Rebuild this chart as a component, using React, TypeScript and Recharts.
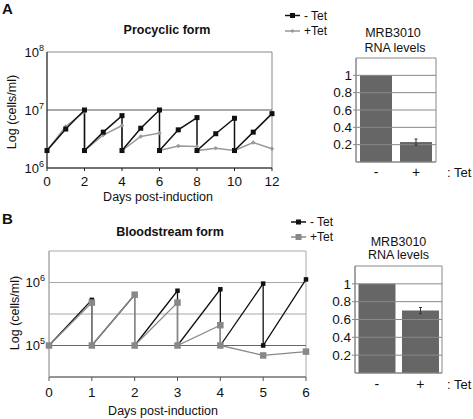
import React from 'react';
import {
  LineChart,
  Line,
  BarChart,
  Bar,
  XAxis,
  YAxis,
  ReferenceLine,
  ReferenceArea,
  ErrorBar,
  Cell,
} from 'recharts';

// Procyclic form growth (days, cells/ml); repeated days are the dilution drops
const procMinusDays = [0, 1, 2, 2, 3, 4, 4, 5, 6, 6, 7, 8, 8, 9, 10, 10, 11, 12];
const procMinusCells = [2e6, 4.7e6, 1e7, 2e6, 4.15e6, 8e6, 2e6, 4.85e6, 1e7, 2e6, 4.55e6, 7.4e6, 2e6, 3.9e6, 7.2e6, 2e6, 4.15e6, 8.65e6];
const procPlusDays = [0, 1, 2, 2, 3, 4, 4, 5, 6, 6, 7, 8, 8, 9, 10, 11, 12];
const procPlusCells = [2e6, 5.2e6, 9.4e6, 2e6, 3.7e6, 5.4e6, 2e6, 3.5e6, 4e6, 2e6, 2.4e6, 2.35e6, 2e6, 2.2e6, 2e6, 2.75e6, 2.15e6];

// Bloodstream form growth
const bloodMinusDays = [0, 1, 1, 2, 2, 3, 3, 4, 4, 5, 5, 6];
const bloodMinusCells = [1e5, 5.3e5, 1e5, 6.4e5, 1e5, 7.4e5, 1e5, 7.8e5, 1e5, 9.6e5, 1e5, 1.12e6];
const bloodPlusDays = [0, 1, 1, 2, 2, 3, 3, 4, 4, 5, 6];
const bloodPlusCells = [1e5, 4.8e5, 1e5, 6.4e5, 1e5, 4.8e5, 1e5, 2.1e5, 1e5, 6.95e4, 8e4];

// RNA levels
const rnaCategories = ['-', '+'];
const procRna = [1, 0.23];
const procRnaErr = [0, 0.035];
const bloodRna = [1, 0.7];
const bloodRnaErr = [0, 0.035];

const procDayTicks = [0, 2, 4, 6, 8, 10, 12];
const bloodDayTicks = [0, 1, 2, 3, 4, 5, 6];
const procLogTicks = [1e6, 1e7, 1e8];
const bloodLogTicks = [1e5, Math.pow(10, 5.5), 1e6];
const rnaTicks = [0.2, 0.4, 0.6, 0.8, 1];

const FONT = '"Liberation Sans", Arial, Helvetica, sans-serif';

const toPoints = (days: number[], cells: number[]) =>
  days.map((d, i) => ({ day: d, cells: cells[i] }));

const toBars = (vals: number[], errs: number[]) =>
  rnaCategories.map((c, i) => ({ cat: c, level: vals[i], err: errs[i] }));

function square(size: number, fill: string) {
  return (props: any) => {
    const { cx, cy, index } = props;
    if (cx == null || cy == null) return <g key={`n${index}`} />;
    return (
      <rect key={`s${index}`} x={cx - size / 2} y={cy - size / 2} width={size} height={size} fill={fill} />
    );
  };
}

function diamond(r: number, fill: string) {
  return (props: any) => {
    const { cx, cy, index } = props;
    if (cx == null || cy == null) return <g key={`n${index}`} />;
    return (
      <path
        key={`d${index}`}
        d={`M${cx},${cy - r}L${cx + r},${cy}L${cx},${cy + r}L${cx - r},${cy}Z`}
        fill={fill}
      />
    );
  };
}

function PowerTick(props: any) {
  const { x, y, payload } = props;
  const exp = Math.log10(payload.value);
  if (Math.abs(exp - Math.round(exp)) > 0.01) return <g />;
  return (
    <text x={x} y={y} dy={4.5} textAnchor="end" fontSize={13} fill="#111" fontFamily={FONT}>
      10
      <tspan dy={-6} fontSize={9}>
        {Math.round(exp)}
      </tspan>
    </text>
  );
}

function LegendRow({ x, y, color, label, mark }: any) {
  return (
    <g>
      <line x1={x} x2={x + 15} y1={y} y2={y} stroke={color} strokeWidth={1.5} />
      {mark}
      <text x={x + 19} y={y} dominantBaseline="central" fontSize={12} fill="#111" fontFamily={FONT}>
        {label}
      </text>
    </g>
  );
}

function Overlay() {
  const t = { fontFamily: FONT, fill: '#111' };
  return (
    <svg width={473} height={419} style={{ position: 'absolute', left: 0, top: 0, pointerEvents: 'none' }}>
      <text x={2} y={8} dominantBaseline="central" fontSize={15} fontWeight="bold" {...t}>A</text>
      <text x={167} y={30} dominantBaseline="central" textAnchor="middle" fontSize={12.5} fontWeight="bold" {...t}>
        Procyclic form
      </text>
      <LegendRow x={285} y={15.5} color="#111" label="- Tet"
        mark={<rect x={290} y={13} width={5} height={5} fill="#111" />} />
      <LegendRow x={285} y={31} color="#999" label="+Tet"
        mark={<path d="M292.5,29L294.5,31L292.5,33L290.5,31Z" fill="#999" />} />
      <text transform="translate(12,112) rotate(-90)" textAnchor="middle" dominantBaseline="central" fontSize={12.5} {...t}>
        Log (cells/ml)
      </text>
      <text x={158} y={197} textAnchor="middle" dominantBaseline="central" fontSize={12.5} {...t}>
        Days post-induction
      </text>
      <text x={393} y={33} textAnchor="middle" dominantBaseline="central" fontSize={12.5} {...t}>MRB3010</text>
      <text x={395} y={47.5} textAnchor="middle" dominantBaseline="central" fontSize={12.5} {...t}>RNA levels</text>
      <text x={447} y={172} dominantBaseline="central" fontSize={13} {...t}>: Tet</text>

      <text x={2} y={218} dominantBaseline="central" fontSize={15} fontWeight="bold" {...t}>B</text>
      <text x={170} y={231.5} dominantBaseline="central" textAnchor="middle" fontSize={12.5} fontWeight="bold" {...t}>
        Bloodstream form
      </text>
      <LegendRow x={291} y={222} color="#111" label="- Tet"
        mark={<rect x={296} y={219.5} width={5} height={5} fill="#111" />} />
      <LegendRow x={291} y={237} color="#888" label="+Tet"
        mark={<rect x={295.5} y={234} width={6} height={6} fill="#888" />} />
      <text transform="translate(14.5,313) rotate(-90)" textAnchor="middle" dominantBaseline="central" fontSize={12.5} {...t}>
        Log (cells/ml)
      </text>
      <text x={163} y={410.5} textAnchor="middle" dominantBaseline="central" fontSize={12.5} {...t}>
        Days post-induction
      </text>
      <text x={398.5} y={241.5} textAnchor="middle" dominantBaseline="central" fontSize={12.5} {...t}>MRB3010</text>
      <text x={398.5} y={255} textAnchor="middle" dominantBaseline="central" fontSize={12.5} {...t}>RNA levels</text>
      <text x={447} y={384} dominantBaseline="central" fontSize={13} {...t}>: Tet</text>
    </svg>
  );
}

function RnaBars({ data, width, height, margin, yWidth, xHeight, gap, tickMargin }: any) {
  return (
    <BarChart width={width} height={height} data={data} margin={margin} barCategoryGap={gap}>
      <ReferenceArea y1={0} y2={1.2} fill="none" stroke="#888" strokeWidth={1} />
      {rnaTicks.map((v) => (
        <ReferenceLine key={v} y={v} stroke="#888" strokeWidth={1} />
      ))}
      <XAxis
        dataKey="cat"
        height={xHeight}
        tickLine={false}
        axisLine={{ stroke: '#888' }}
        tickSize={4}
        tickMargin={tickMargin}
        tick={{ fontSize: 14, fill: '#111', fontFamily: FONT }}
      />
      <YAxis
        width={yWidth}
        domain={[0, 1.2]}
        ticks={rnaTicks}
        interval={0}
        allowDataOverflow
        tickSize={3}
        tickMargin={1}
        tickLine={{ stroke: '#888' }}
        axisLine={{ stroke: '#888' }}
        tick={{ fontSize: 13.5, fill: '#111', fontFamily: FONT }}
      />
      <Bar dataKey="level" fill="#666" isAnimationActive={false}>
        {data.map((_: any, i: number) => (
          <Cell key={i} fill="#666" />
        ))}
        <ErrorBar dataKey="err" width={1.5} stroke="#333" strokeWidth={1} />
      </Bar>
    </BarChart>
  );
}

export default function App() {
  const procMinus = toPoints(procMinusDays, procMinusCells);
  const procPlus = toPoints(procPlusDays, procPlusCells);
  const bloodMinus = toPoints(bloodMinusDays, bloodMinusCells);
  const bloodPlus = toPoints(bloodPlusDays, bloodPlusCells);

  return (
    <div style={{ position: 'absolute', left: 0, top: 0, width: 473, height: 419, background: '#fff', fontFamily: FONT }}>
      {/* Panel A line chart */}
      <div style={{ position: 'absolute', left: 0, top: 0 }}>
        <LineChart width={300} height={200} margin={{ top: 52, right: 28, bottom: 0, left: 0 }}>
          <ReferenceArea y1={1e6} y2={1e8} fill="none" stroke="#888" strokeWidth={1} />
          <ReferenceLine y={1e7} stroke="#555" strokeWidth={1} />
          <XAxis
            dataKey="day"
            type="number"
            domain={[0, 12]}
            ticks={procDayTicks}
            interval={0}
            height={32}
            tickSize={3}
            tickMargin={5}
            axisLine={{ stroke: '#222' }}
            tickLine={{ stroke: '#222' }}
            tick={{ fontSize: 13.5, fill: '#111', fontFamily: FONT }}
          />
          <YAxis
            dataKey="cells"
            scale="log"
            domain={[1e6, 1e8]}
            ticks={procLogTicks}
            interval={0}
            allowDataOverflow
            width={47}
            tickLine={false}
            tickSize={3}
            tickMargin={0}
            axisLine={{ stroke: '#222' }}
            tick={<PowerTick />}
          />
          <Line
            data={procPlus}
            dataKey="cells"
            stroke="#999"
            strokeWidth={1.5}
            dot={diamond(2.2, '#999')}
            activeDot={false}
            isAnimationActive={false}
          />
          <Line
            data={procMinus}
            dataKey="cells"
            stroke="#111"
            strokeWidth={1.5}
            dot={square(5, '#111')}
            activeDot={false}
            isAnimationActive={false}
          />
        </LineChart>
      </div>

      {/* Panel A bars */}
      <div style={{ position: 'absolute', left: 300, top: 0 }}>
        <RnaBars
          data={toBars(procRna, procRnaErr)}
          width={173}
          height={200}
          margin={{ top: 58, right: 37, bottom: 0, left: 0 }}
          yWidth={56}
          xHeight={38}
          gap="10%"
          tickMargin={1}
        />
      </div>

      {/* Panel B line chart */}
      <div style={{ position: 'absolute', left: 0, top: 200 }}>
        <LineChart width={330} height={210} margin={{ top: 51, right: 24, bottom: 0, left: 0 }}>
          <ReferenceArea y1={Math.pow(10, 4.5)} y2={Math.pow(10, 6.5)} fill="none" stroke="#aaa" strokeWidth={1} />
          <ReferenceLine y={bloodLogTicks[1]} stroke="#aaa" strokeWidth={1.2} />
          <ReferenceLine y={bloodLogTicks[2]} stroke="#aaa" strokeWidth={1.2} />
          <ReferenceLine y={bloodLogTicks[0]} stroke="#666" strokeWidth={1} />
          <XAxis
            dataKey="day"
            type="number"
            domain={[0, 6]}
            ticks={bloodDayTicks}
            interval={0}
            height={33}
            tickSize={4}
            tickMargin={6}
            axisLine={{ stroke: '#555' }}
            tickLine={{ stroke: '#555' }}
            tick={{ fontSize: 13.5, fill: '#111', fontFamily: FONT }}
          />
          <YAxis
            dataKey="cells"
            scale="log"
            domain={[Math.pow(10, 4.5), Math.pow(10, 6.5)]}
            ticks={bloodLogTicks}
            interval={0}
            allowDataOverflow
            width={49}
            tickLine={false}
            tickSize={3}
            tickMargin={1}
            axisLine={{ stroke: '#aaa' }}
            tick={<PowerTick />}
          />
          <Line
            data={bloodMinus}
            dataKey="cells"
            stroke="#111"
            strokeWidth={1.3}
            dot={square(4.5, '#111')}
            activeDot={false}
            isAnimationActive={false}
          />
          <Line
            data={bloodPlus}
            dataKey="cells"
            stroke="#888"
            strokeWidth={1.3}
            dot={square(6.5, '#888')}
            activeDot={false}
            isAnimationActive={false}
          />
        </LineChart>
      </div>

      {/* Panel B bars */}
      <div style={{ position: 'absolute', left: 300, top: 200 }}>
        <RnaBars
          data={toBars(bloodRna, bloodRnaErr)}
          width={173}
          height={210}
          margin={{ top: 66, right: 31, bottom: 0, left: 0 }}
          yWidth={55}
          xHeight={37}
          gap="8%"
          tickMargin={2}
        />
      </div>

      <Overlay />
    </div>
  );
}
